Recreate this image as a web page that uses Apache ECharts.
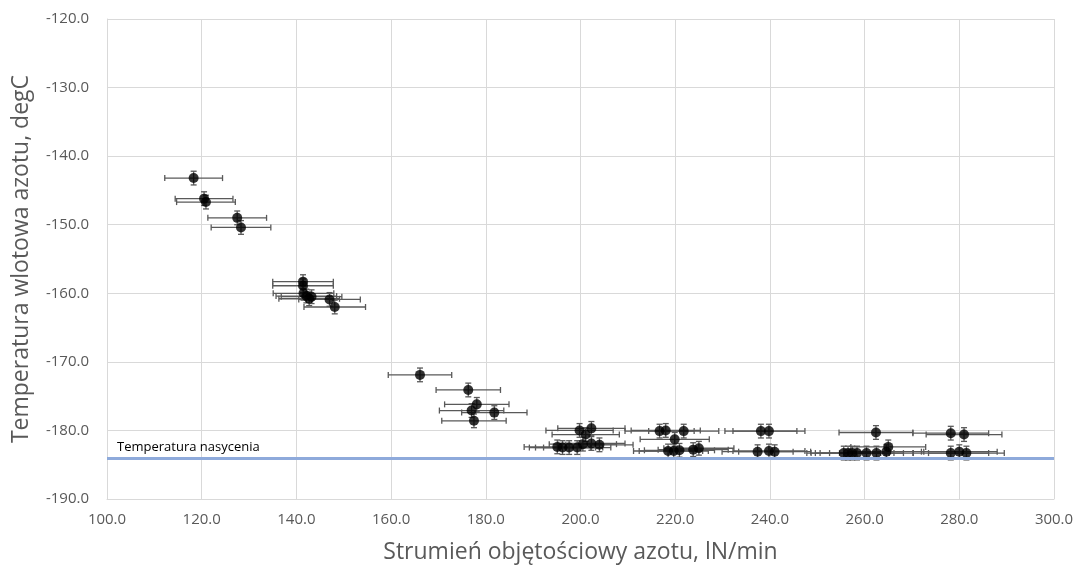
<!DOCTYPE html>
<html>
<head>
<meta charset="utf-8">
<script src="https://cdn.jsdelivr.net/npm/echarts@6/dist/echarts.min.js"></script>
<style>
  html, body { margin: 0; padding: 0; background: #fff; }
  #chart { width: 1077px; height: 570px; }
</style>
</head>
<body>
<div id="chart"></div>
<script>
// Nitrogen volumetric flow (lN/min) for each measurement
const flow = [
  118.3, 120.5, 120.9, 127.5, 128.3,
  141.4, 141.4, 141.5, 142.1, 142.7, 143.2, 147.0, 148.1,
  166.1, 176.3, 178.1, 177.0, 181.8, 177.5,
  199.8, 202.3, 201.1, 195.1, 196.2, 197.6, 199.3, 200.5, 202.3, 204.0,
  216.7, 218.0, 221.8, 219.9, 218.5, 219.7, 220.9, 223.8, 225.0,
  238.1, 239.8, 237.4, 239.8, 241.0,
  262.4, 255.6, 256.5, 257.4, 258.4, 260.4, 262.5, 264.6, 265.0,
  278.2, 281.0, 278.2, 280.0, 281.5
];
// Nitrogen inlet temperature (degC) for each measurement
const temperature = [
  -143.2, -146.2, -146.7, -149.0, -150.4,
  -158.3, -158.9, -160.0, -160.4, -160.8, -160.5, -160.9, -162.0,
  -171.9, -174.1, -176.2, -177.1, -177.4, -178.6,
  -180.0, -179.7, -180.6, -182.4, -182.5, -182.5, -182.5, -182.0, -181.9, -182.1,
  -180.1, -180.0, -180.1, -181.3, -183.0, -183.0, -182.9, -182.8, -182.6,
  -180.1, -180.1, -183.1, -183.0, -183.1,
  -180.3, -183.3, -183.3, -183.3, -183.3, -183.3, -183.3, -183.1, -182.4,
  -180.4, -180.6, -183.3, -183.1, -183.3
];
// Flow uncertainty (± lN/min)
const flowErr = [
  6.1, 6.1, 6.2, 6.2, 6.3,
  6.4, 6.4, 6.4, 6.4, 6.4, 6.4, 6.5, 6.5,
  6.7, 6.8, 6.8, 6.8, 6.9, 6.8,
  7.1, 7.1, 7.1, 7.0, 7.0, 7.1, 7.1, 7.1, 7.1, 7.1,
  7.3, 7.3, 7.4, 7.3, 7.3, 7.3, 7.4, 7.4, 7.4,
  7.6, 7.6, 7.5, 7.6, 7.6,
  7.8, 7.8, 7.8, 7.8, 7.8, 7.8, 7.8, 7.9, 7.9,
  8.0, 8.0, 8.0, 8.0, 8.0
];
// Temperature uncertainty (± degC)
const tempErr = 1.0;

// Saturation temperature of nitrogen
const saturationTemp = -184.0;
const saturationLabel = 'Temperatura nasycenia';

const xAxisTitle = 'Strumień objętościowy azotu, lN/min';
const yAxisTitle = 'Temperatura wlotowa azotu, degC';

const points = flow.map((x, i) => [x, temperature[i]]);
const errData = flow.map((x, i) => [x, temperature[i], flowErr[i], tempErr]);

const BAR = '#595959';
const CAP = 3;

// Horizontal and vertical error bars with end caps
function renderErr(params, api) {
  const x = api.value(0), y = api.value(1);
  const ex = api.value(2), ey = api.value(3);
  const l = api.coord([x - ex, y]);
  const r = api.coord([x + ex, y]);
  const t = api.coord([x, y + ey]);
  const b = api.coord([x, y - ey]);
  const style = { stroke: BAR, lineWidth: 1.3, fill: null };
  const seg = (x1, y1, x2, y2) => ({ type: 'line', shape: { x1, y1, x2, y2 }, style });
  return {
    type: 'group',
    children: [
      seg(l[0], l[1], r[0], r[1]),
      seg(l[0], l[1] - CAP, l[0], l[1] + CAP),
      seg(r[0], r[1] - CAP, r[0], r[1] + CAP),
      seg(t[0], t[1], b[0], b[1]),
      seg(t[0] - CAP, t[1], t[0] + CAP, t[1]),
      seg(b[0] - CAP, b[1], b[0] + CAP, b[1])
    ]
  };
}

const FONT = '"Open Sans", "Liberation Sans", sans-serif';
const chart = echarts.init(document.getElementById('chart'), null, { renderer: 'canvas' });

chart.setOption({
  animation: false,
  backgroundColor: '#fff',
  grid: { left: 107, right: 23, top: 19, bottom: 71 },
  xAxis: {
    type: 'value',
    min: 100, max: 300, interval: 20,
    name: xAxisTitle,
    nameLocation: 'middle',
    nameGap: 42,
    nameTextStyle: { color: '#595959', fontSize: 23, fontFamily: FONT },
    axisLine: { show: true, lineStyle: { color: '#d9d9d9', width: 1 } },
    axisTick: { show: false },
    splitLine: { show: true, lineStyle: { color: '#d9d9d9', width: 1 } },
    axisLabel: {
      color: '#595959', fontSize: 15, fontFamily: FONT, margin: 13,
      formatter: v => v.toFixed(1)
    }
  },
  yAxis: {
    type: 'value',
    min: -190, max: -120, interval: 10,
    name: yAxisTitle,
    nameLocation: 'middle',
    nameGap: 74,
    nameRotate: 90,
    nameTextStyle: { color: '#595959', fontSize: 23, fontFamily: FONT },
    axisLine: { show: true, lineStyle: { color: '#d9d9d9', width: 1 } },
    axisTick: { show: false },
    splitLine: { show: true, lineStyle: { color: '#d9d9d9', width: 1 } },
    axisLabel: {
      color: '#595959', fontSize: 15, fontFamily: FONT, margin: 18,
      formatter: v => v.toFixed(1)
    }
  },
  series: [
    {
      type: 'scatter',
      name: 'saturation',
      data: [],
      markLine: {
        silent: true,
        symbol: 'none',
        lineStyle: { color: '#8eaadb', width: 3, type: 'solid' },
        label: {
          show: true,
          position: 'insideStartTop',
          formatter: saturationLabel,
          color: '#000',
          fontSize: 13,
          fontFamily: FONT,
          distance: [10, 4]
        },
        data: [{ yAxis: saturationTemp }]
      }
    },
    {
      type: 'custom',
      name: 'errors',
      renderItem: renderErr,
      data: errData,
      encode: { x: 0, y: 1 },
      z: 3
    },
    {
      type: 'scatter',
      name: 'measurements',
      data: points,
      symbol: 'circle',
      symbolSize: 10,
      itemStyle: { color: '#000' },
      z: 4
    }
  ]
});
</script>
</body>
</html>
